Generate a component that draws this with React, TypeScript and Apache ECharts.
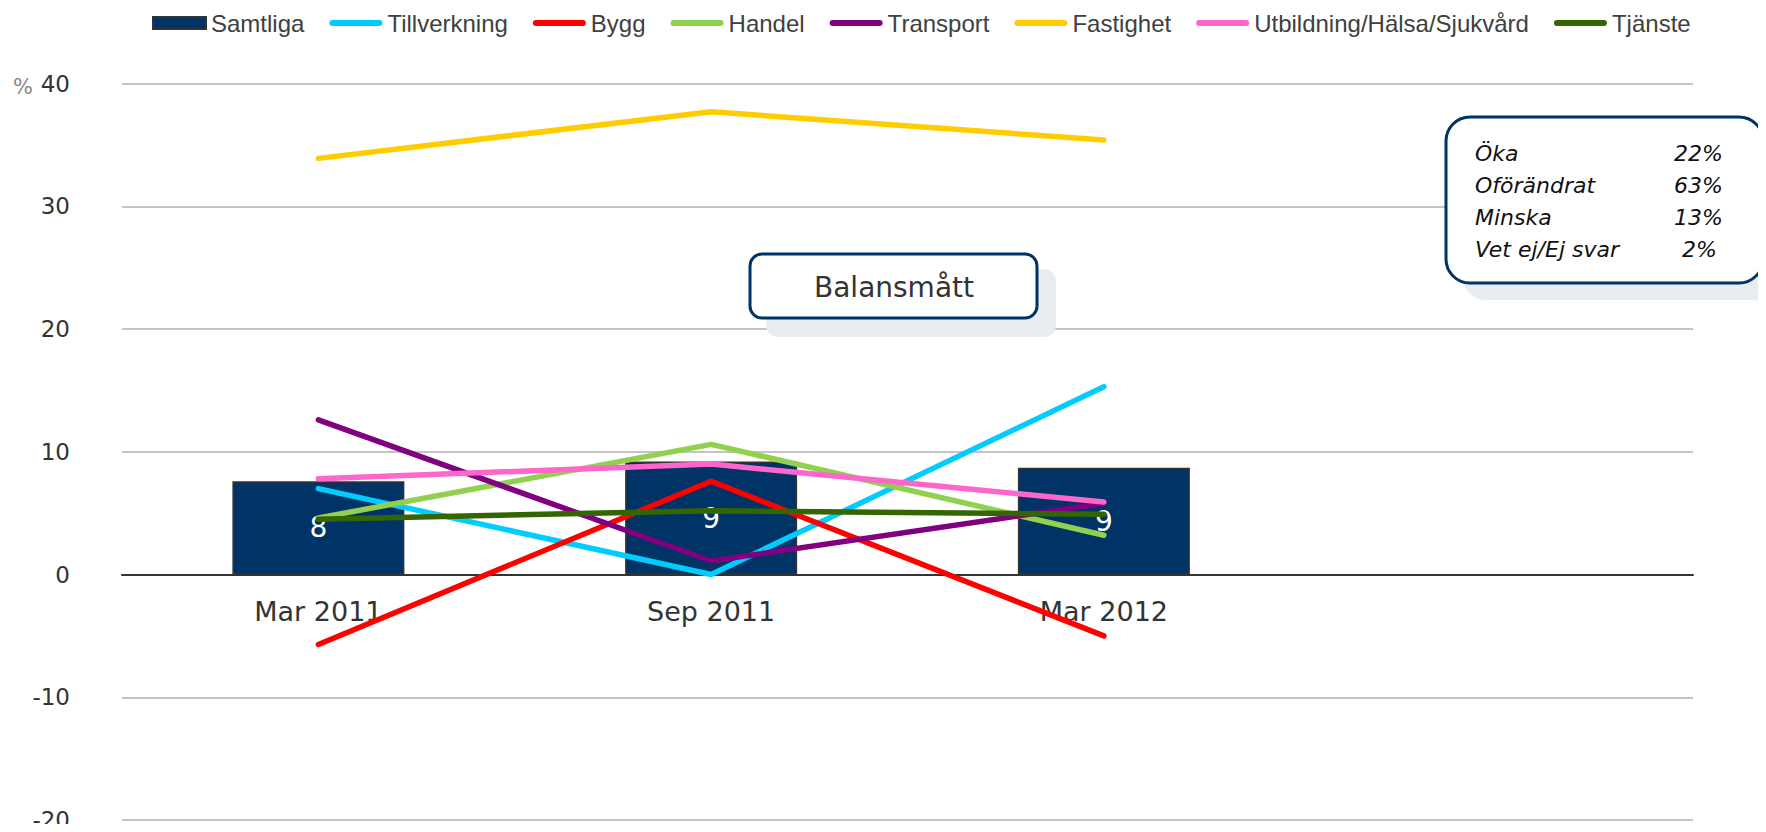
import React, { useEffect, useRef } from "react";
import * as echarts from "echarts";

const categories = ["Mar 2011", "Sep 2011", "Mar 2012", ""];
const samtliga = [7.6, 9.2, 8.7];
const tillverkning = [7.0, 0.0, 15.3];
const bygg = [-5.7, 7.6, -5.0];
const handel = [4.6, 10.6, 3.2];
const transport = [12.6, 1.1, 5.8];
const fastighet = [33.9, 37.7, 35.4];
const utbildning = [7.8, 9.0, 5.9];
const tjanste = [4.5, 5.2, 4.9];
const yTicks = { min: -20, max: 40, interval: 10 };
const boxLabels = ["Öka", "Oförändrat", "Minska", "Vet ej/Ej svar"];
const boxValues = ["22%", "63%", "13%", "2%"];

const lineDefs = [
  { name: "Tillverkning", data: tillverkning, color: "#00CCFF" },
  { name: "Bygg", data: bygg, color: "#FF0000" },
  { name: "Handel", data: handel, color: "#92D050" },
  { name: "Transport", data: transport, color: "#800080" },
  { name: "Fastighet", data: fastighet, color: "#FFCC00" },
  { name: "Utbildning/Hälsa/Sjukvård", data: utbildning, color: "#FF66CC" },
  { name: "Tjänste", data: tjanste, color: "#336600" },
];

const lineIcon = "path://M3,0 L50,0 A3,3 0 0 1 50,6 L3,6 A3,3 0 0 1 3,0 Z";

const GRID_TOP = 83.5;
const GRID_BOTTOM = 12;
const CHART_H = 832;

export default function App() {
  const ref = useRef<HTMLDivElement>(null);
  useEffect(() => {
    if (!ref.current) return;
    const chart = echarts.init(ref.current, null, { renderer: "svg" });
    const gridH = CHART_H - GRID_TOP - GRID_BOTTOM;
    // distance from the grid's bottom edge up to the zero line
    const zeroOffset = (gridH * (0 - yTicks.min)) / (yTicks.max - yTicks.min);
    const boxRows: any[] = [];
    boxLabels.forEach((l, i) => {
      boxRows.push({
        type: "text",
        x: 1475,
        y: 153 + i * 32,
        z: 12,
        style: {
          text: l,
          fontFamily: "DejaVu Sans",
          fontStyle: "italic",
          fontSize: 22,
          fill: "#111",
          verticalAlign: "middle",
          align: "left",
        },
      });
      boxRows.push({
        type: "text",
        x: i === 3 ? 1717 : 1723,
        y: 153 + i * 32,
        z: 12,
        style: {
          text: boxValues[i],
          fontFamily: "DejaVu Sans",
          fontStyle: "italic",
          fontSize: 22,
          fill: "#111",
          verticalAlign: "middle",
          align: "right",
        },
      });
    });
    const option: any = {
      animation: false,
      backgroundColor: "#ffffff",
      legend: {
        left: 147,
        top: 6,
        itemWidth: 53,
        itemHeight: 12,
        itemGap: 25,
        textStyle: { fontFamily: "Liberation Sans", fontSize: 24, color: "#404040" },
        data: [
          { name: "Samtliga", icon: "rect" },
          ...lineDefs.map((d) => ({ name: d.name, icon: lineIcon })),
        ],
      },
      grid: {
        left: 122,
        right: 73,
        top: GRID_TOP,
        bottom: GRID_BOTTOM,
        outerBoundsMode: "none",
        containLabel: false,
      },
      xAxis: {
        type: "category",
        data: categories,
        boundaryGap: true,
        position: "bottom",
        offset: -zeroOffset,
        axisLine: { show: true, onZero: false, lineStyle: { color: "#333", width: 2 } },
        axisTick: { show: false },
        axisLabel: {
          fontFamily: "DejaVu Sans",
          fontSize: 27,
          color: "#333",
          margin: 23,
          interval: 0,
        },
      },
      yAxis: {
        type: "value",
        min: yTicks.min,
        max: yTicks.max,
        interval: yTicks.interval,
        axisLine: { show: false },
        axisTick: { show: false },
        axisLabel: {
          fontFamily: "DejaVu Sans",
          fontSize: 23,
          color: "#333",
          margin: 52,
        },
        splitLine: { lineStyle: { color: "#c4c4c4", width: 2 } },
      },
      series: [
        {
          name: "Samtliga",
          type: "bar",
          data: samtliga,
          barWidth: 172,
          itemStyle: { color: "#003366", borderColor: "#333333", borderWidth: 1.5 },
          label: {
            show: true,
            position: "inside",
            formatter: (p: any) => String(Math.round(p.value)),
            color: "#ffffff",
            fontFamily: "DejaVu Sans",
            fontSize: 28,
          },
          z: 1,
        },
        ...lineDefs.map((d) => ({
          name: d.name,
          type: "line",
          data: d.data,
          symbol: "none",
          color: d.color,
          itemStyle: { color: d.color },
          lineStyle: { color: d.color, width: 5.5, cap: "round", join: "round" },
          z: 3,
        })),
      ],
      graphic: [
        {
          type: "text",
          x: 13,
          y: 87,
          style: {
            text: "%",
            fontFamily: "DejaVu Sans",
            fontSize: 21,
            fill: "#888",
            verticalAlign: "middle",
          },
        },
        {
          type: "rect",
          shape: { x: 766, y: 269, width: 290, height: 68, r: 12 },
          style: { fill: "#e9ecf0" },
          z: 10,
        },
        {
          type: "rect",
          shape: { x: 750, y: 254, width: 287, height: 64, r: 12 },
          style: { fill: "#ffffff", stroke: "#003366", lineWidth: 3 },
          z: 11,
        },
        {
          type: "text",
          x: 894,
          y: 287,
          z: 12,
          style: {
            text: "Balansmått",
            fontFamily: "DejaVu Sans",
            fontSize: 28,
            fill: "#333",
            align: "center",
            verticalAlign: "middle",
          },
        },
        {
          type: "rect",
          shape: { x: 1463, y: 134, width: 320, height: 166, r: 22 },
          style: { fill: "#e9ecf0" },
          z: 10,
        },
        {
          type: "rect",
          shape: { x: 1446, y: 117, width: 317, height: 166, r: 24 },
          style: { fill: "#ffffff", stroke: "#003366", lineWidth: 3 },
          z: 11,
        },
        ...boxRows,
      ],
    };
    chart.setOption(option);
    return () => chart.dispose();
  }, []);
  return <div ref={ref} style={{ width: 1766, height: 832, margin: -8 }} />;
}
